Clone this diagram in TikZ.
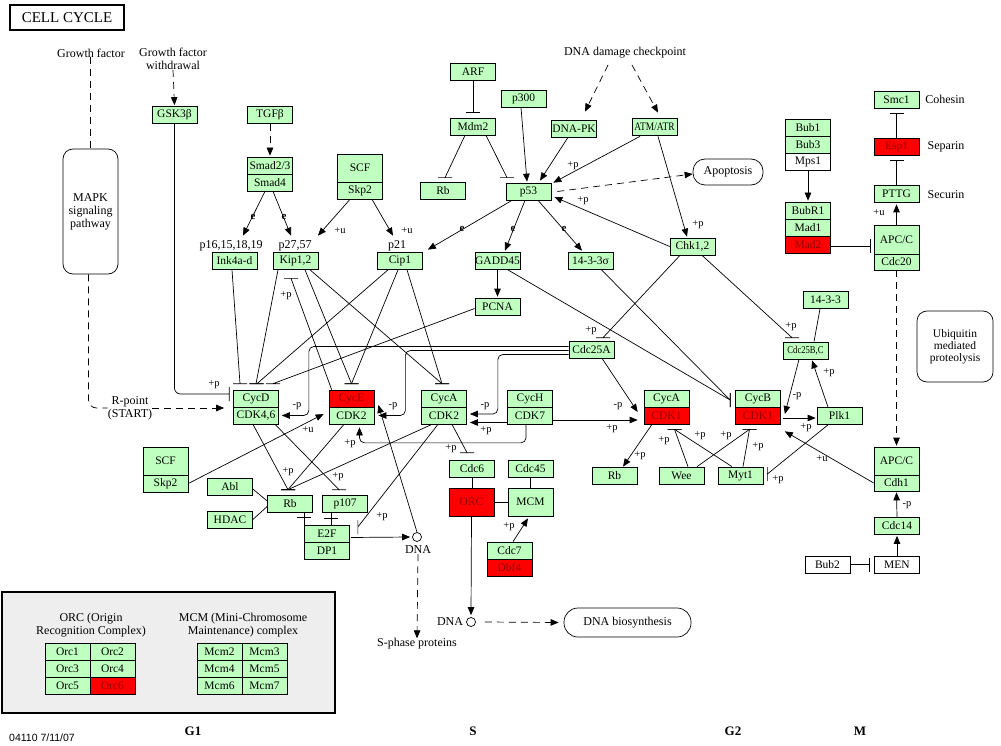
\documentclass[tikz,border=0pt]{standalone}
\usepackage{fontspec}
\setmainfont{Liberation Serif}
\newfontfamily\sansf{Liberation Sans}
\newfontfamily\condf[FakeStretch=0.82]{Liberation Serif}
\usetikzlibrary{arrows.meta,calc}
\definecolor{kg}{RGB}{191,255,191}
\definecolor{kr}{RGB}{255,0,0}
\definecolor{kt}{RGB}{150,0,0}
\definecolor{lg}{RGB}{238,238,238}
\begin{document}
\begin{tikzpicture}[x=1pt,y=-1pt,
  kbox/.style={draw, line width=0.7pt, minimum width=45pt, minimum height=17pt, inner sep=0pt, font=\fontsize{11.5pt}{13pt}\selectfont},
  kgbox/.style={kbox, fill=kg},
  krbox/.style={kbox, fill=kr, text=kt},
  kwbox/.style={kbox, fill=white},
  lab/.style={font=\fontsize{10.5pt}{12pt}\selectfont, inner sep=0pt},
  elab/.style={font=\bfseries\fontsize{11pt}{12pt}\selectfont, inner sep=0pt},
  txt/.style={font=\fontsize{12pt}{13pt}\selectfont, align=center, inner sep=0pt},
  con/.style={line width=0.7pt},
  arr/.style={con, -{Triangle[length=8pt,width=6.5pt]}},
  dsh/.style={con, dash pattern=on 7pt off 5pt},
  hbar/.style={insert path={++(-7,0) -- ++(14,0)}},
  vbar/.style={insert path={++(0,-7) -- ++(0,14)}},
]
\useasboundingbox (0,0) rectangle (1001,746);

% ---------- title and free texts
\node[draw, line width=1.6pt, minimum width=114pt, minimum height=25pt, inner sep=0pt, font=\fontsize{15pt}{17pt}\selectfont] (title) at (67,17.5) {CELL CYCLE};
\node[txt] (gf) at (91,53) {Growth factor};
\node[txt] (gfw) at (173,59) {Growth factor\\withdrawal};
\node[txt] (ddc) at (625,53) {DNA damage checkpoint};
\node[draw, line width=0.7pt, rounded corners=10pt, minimum width=55pt, minimum height=125pt, txt] (mapk) at (90.5,211.5) {MAPK\\signaling\\pathway};
\node[txt] (rpoint) at (130,408) {R-point\\(START)};
\node[draw, line width=0.7pt, rounded corners=12pt, minimum width=70pt, minimum height=26pt, txt] (apop) at (728,172) {Apoptosis};
\node[draw, line width=0.7pt, rounded corners=10pt, minimum width=76pt, minimum height=71pt, txt, font=\fontsize{11.5pt}{12pt}\selectfont] (ubiq) at (955,346.5) {Ubiquitin\\mediated\\proteolysis};
\node[draw, line width=0.7pt, rounded corners=14pt, minimum width=127pt, minimum height=29pt, txt] (dnabio) at (627.5,622.5) {DNA biosynthesis};
\node[txt] (cohesin) at (945,99) {Cohesin};
\node[txt] (separin) at (946,147) {Separin};
\node[txt] (securin) at (946,195) {Securin};

% ---------- gene boxes
\node[kgbox] (gsk) at (174.5,115) {GSK3β};
\node[kgbox] (tgf) at (270,115) {TGFβ};
\node[kgbox] (smad23) at (270,165.5) {Smad2/3};
\node[kgbox] (smad4) at (270,182.5) {Smad4};
\node[kgbox, minimum height=28pt] (scf1) at (360,168) {SCF};
\node[kgbox] (skp21) at (360,190.5) {Skp2};
\node[txt] (p16l) at (231,246) {p16,15,18,19};
\node[kgbox] (ink) at (234.5,261) {Ink4a-d};
\node[txt] (p27l) at (295,246) {p27,57};
\node[kgbox] (kip) at (295.5,261) {Kip1,2};
\node[txt] (p21l) at (397,246) {p21};
\node[kgbox] (cip) at (400,261) {Cip1};
\node[kgbox] (arf) at (473,72) {ARF};
\node[kgbox] (mdm2) at (473,126.5) {Mdm2};
\node[kgbox] (rbt) at (443,191) {Rb};
\node[kgbox] (p300) at (523.5,98.5) {p300};
\node[kgbox] (dnapk) at (574,128.5) {DNA-PK};
\node[kgbox, font=\condf\fontsize{11.5pt}{13pt}\selectfont] (atm) at (654.5,127) {ATM/ATR};
\node[kgbox] (p53) at (528.5,191.5) {p53};
\node[kgbox] (chk) at (692.5,246.5) {Chk1,2};
\node[kgbox] (bub1) at (808,127.5) {Bub1};
\node[kgbox] (bub3) at (808,144.5) {Bub3};
\node[kwbox] (mps1) at (808,161.5) {Mps1};
\node[kgbox] (bubr1) at (808,210.5) {BubR1};
\node[kgbox] (mad1) at (808,227.5) {Mad1};
\node[krbox] (mad2) at (808,244.5) {Mad2};
\node[kgbox] (smc1) at (896.5,99.5) {Smc1};
\node[krbox] (esp1) at (896.5,146.5) {Esp1};
\node[kgbox] (pttg) at (896.5,193.5) {PTTG};
\node[kgbox, minimum height=29pt] (apc1) at (896.5,239.5) {APC/C};
\node[kgbox, minimum height=16pt] (cdc20) at (896.5,262) {Cdc20};
\node[kgbox] (gadd) at (497.5,260.5) {GADD45};
\node[kgbox] (sig) at (590.5,260.5) {14-3-3σ};
\node[kgbox] (pcna) at (497.5,306.5) {PCNA};
\node[kgbox] (cdc25a) at (591.5,349.5) {Cdc25A};
\node[kgbox] (k1433) at (825.5,300) {14-3-3};
\node[kgbox, font=\condf\fontsize{10.5pt}{12pt}\selectfont] (cdc25bc) at (805.5,350.5) {Cdc25B,C};
\node[kgbox] (cycd) at (256,398.5) {CycD};
\node[kgbox] (cdk46) at (256,415.5) {CDK4,6};
\node[krbox] (cyce) at (351.5,398.5) {CycE};
\node[kgbox] (cdk2e) at (351.5,415.5) {CDK2};
\node[kgbox] (cyca) at (444,398.5) {CycA};
\node[kgbox] (cdk2a) at (444,415.5) {CDK2};
\node[kgbox] (cych) at (530,398.5) {CycH};
\node[kgbox] (cdk7) at (530,415.5) {CDK7};
\node[kgbox] (cyca1) at (666.5,398.5) {CycA};
\node[krbox] (cdk1a) at (666.5,415.5) {CDK1};
\node[kgbox] (cycb) at (758,398.5) {CycB};
\node[krbox] (cdk1b) at (758,415.5) {CDK1};
\node[kgbox] (plk1) at (839.5,416) {Plk1};
\node[kgbox] (rbm) at (614.5,475.5) {Rb};
\node[kgbox] (wee) at (681.5,475.5) {Wee};
\node[kgbox] (myt1) at (740.5,475.5) {Myt1};
\node[kgbox, minimum height=28pt] (apc2) at (896.5,461) {APC/C};
\node[kgbox, minimum height=16pt] (cdh1) at (896.5,483) {Cdh1};
\node[kgbox] (cdc14) at (897,526) {Cdc14};
\node[kwbox] (men) at (897,564.5) {MEN};
\node[kwbox] (bub2) at (827.5,564.5) {Bub2};
\node[kgbox, minimum height=28pt] (scf2) at (165.5,461) {SCF};
\node[kgbox] (skp22) at (165.5,483.5) {Skp2};
\node[kgbox] (abl) at (230,487) {Abl};
\node[kgbox] (hdac) at (230,519.5) {HDAC};
\node[kgbox] (rbl) at (290,503.5) {Rb};
\node[kgbox] (p107) at (345,503.5) {p107};
\node[kgbox] (e2f) at (327,533.5) {E2F};
\node[kgbox] (dp1) at (327,550.5) {DP1};
\node[kgbox] (cdc6) at (472,468.5) {Cdc6};
\node[kgbox] (cdc45) at (530.5,468.5) {Cdc45};
\node[krbox, minimum height=28pt] (orc) at (471.5,502) {ORC};
\node[kgbox, minimum height=28pt] (mcm) at (530.5,502) {MCM};
\node[kgbox] (cdc7) at (509.5,550.5) {Cdc7};
\node[krbox] (dbf4) at (509.5,567.5) {Dbf4};
\node[circle, draw, line width=0.7pt, minimum size=9pt, inner sep=0pt] (dna1) at (417,537) {};
\node[txt] (dna1l) at (418,550) {DNA};
\node[txt] (sph) at (417,644) {S-phase proteins};
\node[circle, draw, line width=0.7pt, minimum size=9pt, inner sep=0pt] (dna2) at (471,622) {};
\node[txt] (dna2l) at (450,622) {DNA};

% ---------- legend
\node[draw, line width=1.6pt, fill=lg, minimum width=333pt, minimum height=121pt, inner sep=0pt] (legend) at (168.5,652.5) {};
\node[txt] (orcl) at (91,625.5) {ORC (Origin\\Recognition Complex)};
\node[txt] (mcml) at (243,625.5) {MCM (Mini-Chromosome\\Maintenance) complex};
\node[kgbox] (orc1) at (67.5,651.5) {Orc1};
\node[kgbox] (orc2) at (112.5,651.5) {Orc2};
\node[kgbox] (orc3) at (67.5,668.5) {Orc3};
\node[kgbox] (orc4) at (112.5,668.5) {Orc4};
\node[kgbox] (orc5) at (67.5,685.5) {Orc5};
\node[krbox] (orc6) at (112.5,685.5) {Orc6};
\node[kgbox] (mcm2) at (219.5,651.5) {Mcm2};
\node[kgbox] (mcm3) at (264.5,651.5) {Mcm3};
\node[kgbox] (mcm4) at (219.5,668.5) {Mcm4};
\node[kgbox] (mcm5) at (264.5,668.5) {Mcm5};
\node[kgbox] (mcm6) at (219.5,685.5) {Mcm6};
\node[kgbox] (mcm7) at (264.5,685.5) {Mcm7};

% ---------- phases
\node[font=\bfseries\fontsize{13pt}{15pt}\selectfont] (g1) at (193,731) {G1};
\node[font=\bfseries\fontsize{13pt}{15pt}\selectfont] (sp) at (473,731) {S};
\node[font=\bfseries\fontsize{13pt}{15pt}\selectfont] (g2) at (733,731) {G2};
\node[font=\bfseries\fontsize{13pt}{15pt}\selectfont] (mp) at (860,731) {M};
\node[font=\sansf\fontsize{10.5pt}{12pt}\selectfont] (date) at (42,738) {04110 7/11/07};

% ---------- connectors: growth factor / R-point
\draw[dsh] (gf.south -| mapk.north) -- (mapk.north);
\draw[dsh, rounded corners=8pt] ($(mapk.south)+(-2,0)$) |- (rpoint.west);
\draw[dsh, arr] (rpoint.east) -- ($(rpoint.east -| cdk46.west)+(-9,0)$);
\draw[dsh, arr] (gfw.south) -- ($(gsk.north)+(0,-1)$);
\draw[con, rounded corners=6pt] (gsk.south) |- ($(cycd.west)+(-4,-4.5)$) [vbar];
\node[lab] (l1) at (214,385) {+p};

% TGF / SCF
\draw[dsh, arr] (tgf.south) -- ($(smad23.north)+(0,-1)$);
\draw[arr] ($(smad4.south)+(-5,0)$) -- ($(ink.north)+(8.5,-16.5)$);
\draw[arr] ($(smad4.south)+(3,0)$) -- ($(kip.north)+(-4.5,-16.5)$);
\node[elab] (e1) at (253,217) {e};
\node[elab] (e2) at (284,217) {e};
\draw[arr] ($(skp21.south)+(-10,0)$) -- ($(kip.north)+(22.5,-16.5)$);
\draw[arr] ($(skp21.south)+(12,0)$) -- ($(cip.north)+(-7,-16.5)$);
\node[lab] (l2) at (340,231) {+u};
\node[lab] (l3) at (407,231) {+u};

% p53
\draw[con] (arf.south) -- ($(mdm2.north)+(0,-5)$) [hbar];
\draw[con] ($(mdm2.south)+(-8,0)$) -- ($(rbt.north)+(2,-4.5)$) [hbar];
\draw[con] ($(mdm2.south)+(13,0)$) -- ($(p53.north)+(-21.5,-5)$) [hbar];
\draw[arr] ($(p300.south)+(-2.5,0)$) -- ($(p53.north)+(-1.5,-1)$);
\draw[arr] ($(dnapk.south)+(-6,0)$) -- ($(p53.north)+(11.5,-2)$);
\draw[arr] ($(atm.south)+(-14.5,0.5)$) -- ($(p53.north east)+(2,0)$);
\node[lab] (l4) at (573,166) {+p};
\draw[dsh, arr] ($(ddc.center)+(-17,12)$) -- ($(dnapk.north)+(11,-8)$);
\draw[dsh, arr] ($(ddc.center)+(7,12)$) -- ($(atm.north)+(3.5,-5.5)$);
\draw[dsh, arr] ($(p53.east)+(6,0)$) -- ($(apop.west)+(0,2)$);
\draw[arr] ($(atm.south)+(3.5,0.5)$) -- ($(chk.north)+(-5.5,-1)$);
\node[lab] (l5) at (698,225) {+p};
\draw[arr] (chk.west) -- ($(p53.east)+(3,5.5)$);
\node[lab] (l6) at (583,201) {+p};
\draw[arr] ($(p53.south)+(-16.5,0)$) -- ($(cip.north east)+(5,-2.5)$);
\draw[arr] ($(p53.south)+(-3.5,0)$) -- ($(gadd.north)+(7.5,-1)$);
\draw[arr] ($(p53.south)+(9.5,0)$) -- ($(sig.north)+(-8.5,-1)$);
\node[elab] (e3) at (462,229) {e};
\node[elab] (e4) at (513,229) {e};
\node[elab] (e5) at (564,229) {e};
\draw[arr] (gadd.south) -- ($(pcna.north)+(0,-1)$);

% CDK inhibitors
\draw[con] ($(pcna.west)+(0,2)$) -- ($(cycd.north)+(17,-6)$) [hbar];
\draw[con] ($(ink.south)+(-2.5,0)$) -- ($(cycd.north)+(-16,-6)$) [hbar];
\draw[con] ($(kip.south)+(-17.5,0)$) -- ($(cycd.north)+(0,-6)$) [hbar];
\draw[con] ($(cip.south)+(-12,0)$) -- ($(cycd.north)+(1,-6)$) [hbar];
\draw[con] ($(kip.south)+(9.5,0)$) -- ($(cyce.north)+(0,-6)$) [hbar];
\draw[con] ($(cip.south)+(-2,0)$) -- ($(cyce.north)+(0,-6)$) [hbar];
\draw[con] ($(kip.south)+(14.5,0)$) -- ($(cyca.north)+(-2,-6)$) [hbar];
\draw[con] ($(cip.south)+(7,0)$) -- ($(cyca.north)+(-2,-6)$) [hbar];
\draw[con] ($(cyce.north west)+(3,0)$) -- ($(kip.south)+(-4.5,8.5)$) [hbar];
\node[lab] (l7) at (286,296) {+p};

% Cdc25A
\draw[arr, rounded corners=5pt] ($(cdc25a.west)+(0,-3)$) -- ($(cdc25a.west -| cdk46.east)+(30,-3)$) -- ($(cdk46.east)+(30,0)$) -- ($(cdk46.east)+(3,0)$);
\node[lab] (l8) at (297,406) {-p};
\draw[arr, rounded corners=5pt] ($(cdc25a.west)+(0,1)$) -- ($(cdc25a.west -| cdk2e.east)+(31,1)$) -- ($(cdk2e.east)+(31,0)$) -- ($(cdk2e.east)+(4,0)$);
\node[lab] (l9) at (393,406) {-p};
\draw[arr, rounded corners=5pt] ($(cdc25a.west)+(0,5)$) -- ($(cdc25a.west -| cdk2a.east)+(31,5)$) -- ($(cdk2a.east)+(31,-1.5)$) -- ($(cdk2a.east)+(3,-1.5)$);
\node[lab] (l10) at (485,406) {-p};

% CycH/CDK7
\draw[arr] ($(cdk7.west)+(0,7)$) -- ($(cdk2a.east)+(3,7)$);
\node[lab] (l11) at (486,431) {+p};
\draw[arr, rounded corners=5pt] ($(cdk7.south)+(-4,0)$) |- ($(cdk2e.south)+(8,18.5)$) -- ($(cdk2e.south)+(8,3)$);
\node[lab] (l12) at (350,444) {+p};
\draw[arr] ($(cdk7.east)+(0,4.5)$) -- ($(cdk1a.west)+(-6,4.5)$);
\node[lab] (l13) at (612,429) {+p};
\draw[arr] ($(cdc25a.south)+(10.5,0)$) -- ($(cdk1a.west)+(-6,-3.5)$);
\node[lab] (l14) at (618,406) {-p};
\draw[arr] ($(cdk1a.south)+(-14.5,0)$) -- ($(rbm.north)+(8.5,0)$);
\node[lab] (l15) at (640,456) {+p};

% Chk1,2 and G2/M
\draw[con] ($(chk.south)+(-12.5,0)$) -- ($(cdc25a.north)+(11.5,-3)$) [hbar];
\node[lab] (l16) at (591,331) {+p};
\draw[con] ($(chk.south)+(9.5,0)$) -- ($(cdc25bc.north)+(-13.5,-4)$) [hbar];
\node[lab] (l17) at (791,327) {+p};
\draw[con] ($(sig.south)+(10.5,0)$) -- ($(cycb.west)+(-5,1.5)$) [vbar];
\draw[con] ($(gadd.south)+(9.5,0)$) -- ($(cycb.west)+(-5,1.5)$) [vbar];
\draw[arr] ($(cdc25bc.south)+(-6.5,0)$) -- ($(cdk1b.east)+(4,-1.5)$);
\node[lab] (l18) at (797,396) {-p};
\draw[arr] ($(cdk1b.east)+(2,2.5)$) -- ($(plk1.west)+(-1,2)$);
\node[lab] (l19) at (806,428) {+p};
\draw[arr] ($(plk1.north)+(-11.5,0)$) -- ($(cdc25bc.south)+(6.5,1)$);
\node[lab] (l20) at (829,373) {+p};
\draw[con] ($(k1433.south)+(-5.5,0)$) -- ($(cdc25bc.north)+(8.5,0)$);
\draw[con] ($(plk1.south)+(-11.5,0)$) -- ($(myt1.east)+(4,-1.5)$) [vbar];
\node[lab] (l21) at (778,480) {+p};
\draw[arr] (cdh1.west) -- ($(cdk1b.south east)+(4,7)$);
\node[lab] (l22) at (822,459) {+u};
\draw[con] ($(wee.north)+(6.5,0)$) -- ($(cdk1a.south)+(8,5)$) [hbar];
\draw[con] ($(wee.north)+(15.5,0)$) -- ($(cdk1b.south)+(-8.5,5)$) [hbar];
\draw[con] ($(myt1.north)+(-8.5,0)$) -- ($(cdk1a.south)+(8,5)$) [hbar];
\draw[con] ($(myt1.north)+(2.5,0)$) -- ($(cdk1b.south)+(-8.5,5)$) [hbar];
\node[lab] (l23) at (664,441) {+p};
\node[lab] (l24) at (700,436) {+p};
\node[lab] (l25) at (726,436) {+p};
\node[lab] (l26) at (758,447) {+p};

% M phase
\draw[arr] (mps1.south) -- ($(bubr1.north)+(0,-1)$);
\draw[con] ($(mad2.east)+(0,1.5)$) -- ($(apc1.west |- mad2.east)+(-3,1.5)$) [vbar];
\draw[arr] (apc1.north) -- ($(pttg.south)+(0,2)$);
\node[lab] (l27) at (879,213) {+u};
\draw[con] (pttg.north) -- ($(esp1.south)+(0,5)$) [hbar];
\draw[con] (esp1.north) -- ($(smc1.south)+(0,5)$) [hbar];
\draw[dsh, arr] (cdc20.south) -- ($(apc2.north)+(0,-1)$);
\draw[arr] (cdc14.north) -- ($(cdh1.south)+(0,1)$);
\node[lab] (l28) at (907,505) {-p};
\draw[arr] (men.north) -- ($(cdc14.south)+(0,1)$);
\draw[con] (bub2.east) -- ($(men.west)+(-5,0)$) [vbar];

% G1/S
\draw[arr] (skp22.east) -- ($(cdk2e.west)+(-5,-1.5)$);
\node[lab] (l29) at (308,430) {+u};
\draw[con] ($(abl.east)+(0,2)$) -- ($(rbl.west)+(0,-2.5)$);
\draw[con] (hdac.east) -- ($(rbl.west)+(0,3)$);
\draw[con] ($(cdk46.south)+(-3,0)$) -- ($(rbl.north)+(-2,-5)$) [hbar];
\draw[con] ($(cdk2e.south)+(-7.5,0)$) -- ($(rbl.north)+(-2,-5)$) [hbar];
\draw[con] ($(cdk2a.south)+(-12,0)$) -- ($(rbl.north)+(-2,-5)$) [hbar];
\node[lab] (l30) at (288,472) {+p};
\draw[con] ($(cdk46.south)+(19,0)$) -- ($(p107.north)+(-6,-5)$) [hbar];
\node[lab] (l31) at (338,477) {+p};
\draw[con] (rbl.south -| e2f.north west) -- (e2f.north west) ($(e2f.north west)+(0,-7)$) [hbar];
\draw[con] ($(p107.south)+(-14,0)$) -- ($(p107.south)+(-14,13)$) ($(p107.south)+(-14,6)$) [hbar];
\draw[con] ($(cdk2a.south)+(-6,0)$) -- ($(e2f.east)+(8,-6.5)$) [vbar];
\node[lab] (l32) at (382,517) {+p};
\draw[arr] ($(e2f.east)+(1,4)$) -- ($(dna1.west)+(-2,0)$);
\draw[arr] (dna1.north) -- ($(cyce.east)+(4,6.5)$);
\draw[dsh, arr] (dna1l.south) -- (sph.north);
\draw[con] ($(cdk2a.south)+(8,0)$) -- ($(cdc6.north)+(-5,-7)$) [hbar];
\node[lab] (l33) at (451,449) {+p};
\draw[con] (cdc6.south) -- (cdc6.south |- orc.north);
\draw[con] (cdc45.south) -- (mcm.north);
\draw[con] (orc.east) -- (mcm.west);
\draw[arr] ($(cdc7.north)+(3.5,0)$) -- ($(mcm.south)+(-2.5,2)$);
\node[lab] (l34) at (509,527) {+p};
\draw[arr] (orc.south) -- ($(dna2.north)+(0,-2)$);
\draw[dsh, arr] ($(dna2.east)+(9,0)$) -- ($(dnabio.west)+(-5,0)$);
\end{tikzpicture}
\end{document}
